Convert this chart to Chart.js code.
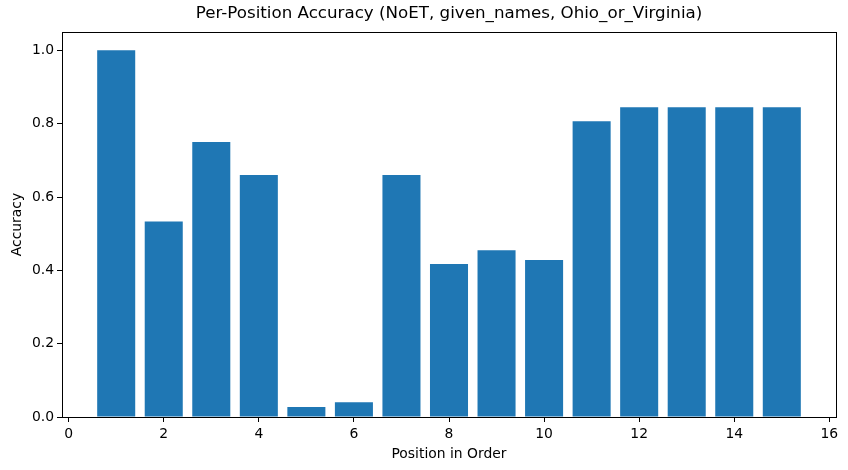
<!DOCTYPE html>
<html>
<head>
<meta charset="utf-8">
<script src="https://cdn.jsdelivr.net/npm/chart.js@4/dist/chart.umd.min.js"></script>
<style>
  html, body { margin: 0; padding: 0; background: #fff; }
  #wrap { width: 848px; height: 470px; }
</style>
</head>
<body>
<div id="wrap"><canvas id="accChart" width="848" height="470"></canvas></div>
<script>
// positions in order and the accuracy
var positions = [1, 2, 3, 4, 5, 6, 7, 8, 9, 10, 11, 12, 13, 14, 15];
var accuracy = [1.0, 0.533, 0.75, 0.66, 0.027, 0.04, 0.66, 0.417, 0.455, 0.428, 0.807, 0.845, 0.845, 0.845, 0.845];

// tick labels
var xTicks = [0, 2, 4, 6, 8, 10, 12, 14, 16];
var yTicks = [0, 0.2, 0.4, 0.6, 0.8, 1.0];

var FONT = "'DejaVu Sans', sans-serif";

/**
 * Draw the black box around the plot area (matplotlib spines)
 * and center the title over the plot area instead of the canvas
 */
var frameBox = {
    id: 'frameBox',
    afterLayout: function(chart) {
        if (chart.titleBlock) {
            chart.titleBlock.left = chart.chartArea.left;
            chart.titleBlock.right = chart.chartArea.right;
        }
    },
    afterDraw: function(chart) {
        var a = chart.chartArea;
        var ctx = chart.ctx;
        ctx.save();
        ctx.strokeStyle = '#000';
        ctx.lineWidth = 1;
        ctx.strokeRect(Math.round(a.left) + 0.5, Math.round(a.top) + 0.5,
            Math.round(a.right - a.left), Math.round(a.bottom - a.top));
        ctx.restore();
    }
};

function makeChart() {
    var points = positions.map(function(p, i) { return {x: p, y: accuracy[i]}; });

    var ctx = document.getElementById("accChart").getContext("2d");
    new Chart(ctx, {
        type: 'bar',
        data: {
            datasets: [{
                data: points,
                backgroundColor: '#1f77b4',
                borderWidth: 0,
                inflateAmount: 0,
                categoryPercentage: 1.0,
                barPercentage: 0.8
            }]
        },
        options: {
            responsive: false,
            animation: false,
            layout: { padding: { left: 0, right: 12, top: 0, bottom: 0 } },
            plugins: {
                legend: { display: false },
                tooltip: { enabled: false },
                title: {
                    display: true,
                    text: 'Per-Position Accuracy (NoET, given_names, Ohio_or_Virginia)',
                    color: '#000',
                    font: { family: FONT, size: 16.7, weight: 'normal', lineHeight: 1.2 },
                    padding: { top: 4, bottom: 8 }
                }
            },
            scales: {
                x: {
                    type: 'linear',
                    min: -0.14,
                    max: 16.14,
                    offset: false,
                    afterBuildTicks: function(s) { s.ticks = xTicks.map(function(v) { return {value: v}; }); },
                    afterFit: function(s) { s.height = 53; },
                    grid: { display: true, offset: false, drawOnChartArea: false, color: '#000', tickLength: 5, tickColor: '#000' },
                    border: { display: true, color: '#000' },
                    ticks: {
                        color: '#000', padding: 4, maxRotation: 0, autoSkip: false,
                        font: { family: FONT, size: 13.9 },
                        callback: function(v) { return String(v); }
                    },
                    title: {
                        display: true, text: 'Position in Order', color: '#000',
                        font: { family: FONT, size: 13.9 }, padding: { top: 2, bottom: 7 }
                    }
                },
                y: {
                    min: 0,
                    max: 1.05,
                    afterBuildTicks: function(s) { s.ticks = yTicks.map(function(v) { return {value: v}; }); },
                    afterFit: function(s) { s.width = 62; },
                    grid: { display: true, drawOnChartArea: false, color: '#000', tickLength: 5, tickColor: '#000' },
                    border: { display: true, color: '#000' },
                    ticks: {
                        color: '#000', padding: 3,
                        font: { family: FONT, size: 13.9 },
                        callback: function(v) { return v.toFixed(1); }
                    },
                    title: {
                        display: true, text: 'Accuracy', color: '#000',
                        font: { family: FONT, size: 13.9 }, padding: { top: 9, bottom: 4 }
                    }
                }
            }
        },
        plugins: [frameBox]
    });
}

makeChart();
</script>
</body>
</html>
